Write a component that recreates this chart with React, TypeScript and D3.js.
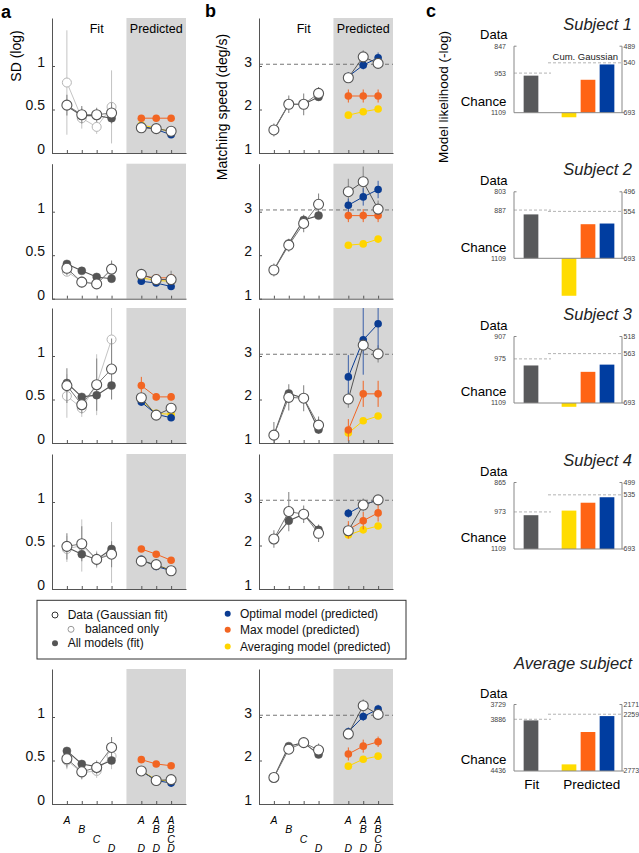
import React, { useEffect, useRef } from 'react';
import * as d3 from 'd3';

const FONT = "'Liberation Sans', Arial, Helvetica, sans-serif";

// ---------- Panel a: SD (log) ----------
const sdFitData = [
  [0.55, 0.44, 0.44, 0.46],
  [0.35, 0.19, 0.17, 0.34],
  [0.66, 0.44, 0.67, 0.85],
  [0.49, 0.52, 0.34, 0.40],
  [0.52, 0.37, 0.42, 0.65],
];
const sdFitErr = [
  [0.12, 0.1, 0.08, 0.12],
  [0.08, 0.06, 0.05, 0.1],
  [0.2, 0.1, 0.3, 0.35],
  [0.15, 0.2, 0.08, 0.15],
  [0.1, 0.08, 0.08, 0.12],
];
const sdBalanced = [
  [0.81, 0.40, 0.30, 0.53],
  [0.31, 0.20, 0.17, 0.33],
  [0.54, 0.40, 0.67, 1.19],
  [0.46, 0.50, 0.34, 0.42],
  [0.50, 0.36, 0.38, 0.55],
];
const sdBalancedErr = [
  [0.6, 0.12, 0.08, 0.42],
  [0.05, 0.05, 0.05, 0.1],
  [0.25, 0.1, 0.35, 0.5],
  [0.15, 0.3, 0.1, 0.35],
  [0.1, 0.08, 0.08, 0.15],
];
const sdAllModels = [
  [0.54, 0.43, 0.43, 0.40],
  [0.40, 0.32, 0.25, 0.23],
  [0.69, 0.53, 0.55, 0.66],
  [0.48, 0.40, 0.34, 0.46],
  [0.61, 0.46, 0.43, 0.50],
];
const sdPredData = [
  [0.29, 0.28, 0.25],
  [0.28, 0.22, 0.22],
  [0.52, 0.32, 0.40],
  [0.32, 0.28, 0.21],
  [0.38, 0.27, 0.28],
];
const sdPredErr = [
  [0.04, 0.04, 0.04],
  [0.05, 0.04, 0.1],
  [0.06, 0.05, 0.06],
  [0.04, 0.04, 0.04],
  [0.04, 0.04, 0.04],
];
const sdOptimal = [
  [0.31, 0.27, 0.21],
  [0.20, 0.18, 0.14],
  [0.47, 0.33, 0.29],
  [0.34, 0.26, 0.21],
  [0.38, 0.27, 0.24],
];
const sdMax = [
  [0.40, 0.40, 0.40],
  [0.26, 0.24, 0.24],
  [0.66, 0.53, 0.53],
  [0.46, 0.40, 0.33],
  [0.51, 0.46, 0.44],
];
const sdMaxErr = [
  [0.03, 0.03, 0.03],
  [0.03, 0.03, 0.03],
  [0.1, 0.04, 0.04],
  [0.03, 0.03, 0.03],
  [0.03, 0.03, 0.03],
];
const sdAveraging = [
  [0.32, 0.29, 0.24],
  [0.24, 0.21, 0.20],
  [0.49, 0.34, 0.33],
  [0.33, 0.27, 0.22],
  [0.38, 0.28, 0.26],
];

// ---------- Panel b: Matching speed ----------
const spFitData = [
  [1.53, 2.12, 2.12, 2.37],
  [1.66, 2.23, 2.73, 3.17],
  [1.18, 2.05, 2.03, 1.41],
  [2.15, 2.78, 2.72, 2.28],
  [1.61, 2.26, 2.41, 2.24],
];
const spFitErr = [
  [0.15, 0.2, 0.25, 0.15],
  [0.15, 0.15, 0.2, 0.25],
  [0.3, 0.3, 0.3, 0.2],
  [0.2, 0.45, 0.2, 0.2],
  [0.1, 0.1, 0.12, 0.15],
];
const spAllModels = [
  [1.53, 2.12, 2.12, 2.29],
  [1.66, 2.27, 2.81, 2.91],
  [1.18, 2.14, 2.03, 1.31],
  [2.15, 2.57, 2.72, 2.36],
  [1.61, 2.33, 2.41, 2.14],
];
const spPredData = [
  [2.73, 3.21, 3.06],
  [3.46, 3.69, 3.06],
  [2.01, 3.25, 3.05],
  [2.34, 2.93, 3.05],
  [2.61, 3.26, 3.06],
];
const spPredErr = [
  [0.1, 0.15, 0.1],
  [0.3, 0.35, 0.2],
  [0.2, 0.2, 0.2],
  [0.15, 0.15, 0.1],
  [0.1, 0.15, 0.1],
];
const spOptimal = [
  [2.76, 3.02, 3.19],
  [3.15, 3.34, 3.51],
  [2.52, 3.37, 3.74],
  [2.74, 2.93, 3.05],
  [2.66, 3.01, 3.18],
];
const spOptimalErr = [
  [0.1, 0.1, 0.12],
  [0.15, 0.2, 0.2],
  [0.5, 0.8, 0.7],
  [0.1, 0.1, 0.1],
  [0.1, 0.1, 0.1],
];
const spMax = [
  [2.31, 2.31, 2.31],
  [2.91, 2.91, 2.91],
  [1.30, 2.13, 2.13],
  [2.36, 2.57, 2.75],
  [2.15, 2.33, 2.43],
];
const spMaxErr = [
  [0.15, 0.15, 0.15],
  [0.15, 0.15, 0.15],
  [0.25, 0.3, 0.3],
  [0.2, 0.2, 0.2],
  [0.15, 0.15, 0.12],
];
const spAveraging = [
  [1.87, 1.95, 2.01],
  [2.23, 2.26, 2.37],
  [1.23, 1.51, 1.62],
  [2.24, 2.36, 2.45],
  [1.87, 2.03, 2.10],
];
const SPEED_REF = 3.04;

// ---------- Panel c: Model likelihood ----------
const subjects = ['Subject 1', 'Subject 2', 'Subject 3', 'Subject 4', 'Average subject'];
const likLeftTicks = [
  [847, 953, 1109],
  [803, 887, 1109],
  [907, 975, 1109],
  [865, 973, 1109],
  [3729, 3886, 4436],
];
const likRightTicks = [
  [489, 540, 693],
  [496, 554, 693],
  [518, 563, 693],
  [499, 535, 693],
  [2171, 2259, 2773],
];
const likFit = [963, 907, 995, 985, 3898];
const likAveraging = [707, 804, 703, 581, 2713];
const likMax = [592, 592, 611, 558, 2420];
const likOptimal = [545, 590, 592, 542, 2276];

// ---------- labels ----------
const fitLabels = ['A', 'B', 'C', 'D'];
const predLabels = [
  ['A', '', '', 'D'],
  ['A', 'B', '', 'D'],
  ['A', 'B', 'C', 'D'],
];
const FIT_X = [1, 2, 3, 4];
const PRED_X = [6, 7, 8];

const COL = {
  blue: '#0a3c92',
  orange: '#f26522',
  yellow: '#ffd500',
  dark: '#555555',
  shade: '#d6d6d6',
  axis: '#555',
  err: '#8a8a8a',
};

const ROW_BOTTOMS = [153, 298.7, 443, 589, 804];
const ROW_H = 135;
const C_BOTTOMS = [112.7, 258.3, 403, 549, 771];
const C_H = 66.5;

type Sel = d3.Selection<any, any, any, any>;

interface PanelRow {
  x0: number;
  B: number;
  yDomain: [number, number];
  yTicks: number[];
  fmt: (v: number) => string;
  fit: number[];
  fitErr: number[];
  balanced?: number[];
  balancedErr?: number[];
  all: number[];
  pred: number[];
  predErr: number[];
  opt: number[];
  optErr?: number[];
  max: number[];
  maxErr?: number[];
  avg: number[];
  ref?: number;
  header: boolean;
}

function drawRow(svg: Sel, o: PanelRow) {
  const g = svg.append('g');
  const x = d3.scaleLinear().domain([0, 9]).range([o.x0, o.x0 + 134]);
  const y = d3.scaleLinear().domain(o.yDomain).range([o.B, o.B - ROW_H]);
  const top = o.yDomain[1];
  const bot = o.yDomain[0];
  const clip = (v: number) => Math.max(bot, Math.min(top, v));

  g.append('rect')
    .attr('x', x(5)).attr('y', o.B - ROW_H)
    .attr('width', x(9) - x(5)).attr('height', ROW_H)
    .attr('fill', COL.shade);

  if (o.ref != null) {
    g.append('line')
      .attr('x1', x(0)).attr('x2', x(9))
      .attr('y1', y(o.ref)).attr('y2', y(o.ref))
      .attr('stroke', '#666').attr('stroke-width', 0.9)
      .attr('stroke-dasharray', '4,3');
  }

  const ya = g.append('g').attr('transform', `translate(${o.x0},0)`)
    .call(d3.axisLeft(y).tickValues(o.yTicks).tickSize(-3).tickSizeOuter(0).tickPadding(7).tickFormat(o.fmt as any));
  ya.select('.domain').attr('stroke', COL.axis);
  ya.selectAll('.tick line').attr('stroke', COL.axis);
  ya.selectAll('text').attr('y', -4).attr('font-size', 14).attr('font-family', FONT).attr('fill', '#111');

  const xa = g.append('g').attr('transform', `translate(0,${o.B})`)
    .call(d3.axisBottom(x).tickValues([...FIT_X, ...PRED_X]).tickSize(-3).tickSizeOuter(0).tickFormat(() => ''));
  xa.select('.domain').attr('stroke', COL.axis);
  xa.selectAll('.tick line').attr('stroke', COL.axis);

  if (o.header) {
    g.append('text').attr('x', x(3)).attr('y', o.B - ROW_H + 14.5)
      .attr('text-anchor', 'middle').attr('font-size', 12.5).text('Fit');
    g.append('text').attr('x', x(7)).attr('y', o.B - ROW_H + 14.5)
      .attr('text-anchor', 'middle').attr('font-size', 12.5).text('Predicted');
  }

  const errBars = (xs: number[], vals: number[], errs: number[], color: string, w = 1) => {
    g.append('g').selectAll('line').data(vals).join('line')
      .attr('x1', (_, i) => x(xs[i])).attr('x2', (_, i) => x(xs[i]))
      .attr('y1', (v, i) => y(clip(v - errs[i]))).attr('y2', (v, i) => y(clip(v + errs[i])))
      .attr('stroke', color).attr('stroke-width', w);
  };
  const line = (xs: number[], vals: number[], color: string, w = 1) => {
    const gen = d3.line<number>().x((_, i) => x(xs[i])).y((v) => y(v));
    g.append('path').attr('d', gen(vals)).attr('fill', 'none').attr('stroke', color).attr('stroke-width', w);
  };
  const dots = (xs: number[], vals: number[], r: number, fill: string, stroke: string, sw: number) => {
    g.append('g').selectAll('circle').data(vals).join('circle')
      .attr('cx', (_, i) => x(xs[i])).attr('cy', (v) => y(v)).attr('r', r)
      .attr('fill', fill).attr('stroke', stroke).attr('stroke-width', sw);
  };

  // fit side
  if (o.balanced && o.balancedErr) {
    errBars(FIT_X, o.balanced, o.balancedErr, '#c4c4c4', 1);
    line(FIT_X, o.balanced, '#c4c4c4', 1);
    dots(FIT_X, o.balanced, 4.5, '#fff', '#b5b5b5', 1);
  }
  errBars(FIT_X, o.fit, o.fitErr, COL.err, 1.1);
  line(FIT_X, o.all, COL.dark, 1.1);
  dots(FIT_X, o.all, 4, COL.dark, COL.dark, 0.5);
  line(FIT_X, o.fit, '#777', 1);
  dots(FIT_X, o.fit, 5, '#fff', '#555', 1.1);

  // predicted side
  errBars(PRED_X, o.pred, o.predErr, COL.err, 1.1);
  line(PRED_X, o.avg, COL.yellow, 1);
  dots(PRED_X, o.avg, 3.8, COL.yellow, 'none', 0);
  if (o.maxErr) errBars(PRED_X, o.max, o.maxErr, COL.orange, 1);
  line(PRED_X, o.max, COL.orange, 1);
  dots(PRED_X, o.max, 3.8, COL.orange, 'none', 0);
  if (o.optErr) errBars(PRED_X, o.opt, o.optErr, '#3a5fa8', 1);
  line(PRED_X, o.opt, COL.blue, 1);
  dots(PRED_X, o.opt, 3.8, COL.blue, 'none', 0);
  line(PRED_X, o.pred, '#555', 1);
  dots(PRED_X, o.pred, 5, '#fff', '#555', 1.1);

  return x;
}

function drawXLabels(svg: Sel, x: d3.ScaleLinear<number, number>) {
  const g = svg.append('g').attr('font-size', 10.5).attr('font-style', 'italic').attr('text-anchor', 'middle');
  const base = 823.5;
  const step = 9.6;
  fitLabels.forEach((t, i) => {
    g.append('text').attr('x', x(FIT_X[i])).attr('y', base + i * step).text(t);
  });
  predLabels.forEach((col, c) => {
    col.forEach((t, r) => {
      if (t) g.append('text').attr('x', x(PRED_X[c])).attr('y', base + r * step).text(t);
    });
  });
}

function drawLikelihood(svg: Sel, i: number) {
  const g = svg.append('g');
  const B = C_BOTTOMS[i];
  const topY = B - C_H;
  const L = likLeftTicks[i];
  const R = likRightTicks[i];
  const yL = d3.scaleLinear().domain([L[2], L[0]]).range([B, topY]);
  const yR = d3.scaleLinear().domain([R[2], R[0]]).range([B, topY]);
  const xb = d3.scalePoint<string>().domain(['fit', 'gap', 'avg', 'max', 'opt']).range([531, 607]);
  const xl = 514;
  const xr = 622;
  const bw = 14.7;

  // title
  g.append('text').attr('x', 632).attr('y', i === 4 ? B - 101.7 : B - 83)
    .attr('text-anchor', 'end').attr('font-size', 16.5).attr('font-style', 'italic').attr('fill', '#222')
    .text(subjects[i]);
  g.append('text').attr('x', 507.5).attr('y', B - 73.4).attr('text-anchor', 'end').attr('font-size', 13).text('Data');
  g.append('text').attr('x', 506.5).attr('y', B - 6.7).attr('text-anchor', 'end').attr('font-size', 13.3).text('Chance');

  // dashed lines
  g.append('line').attr('x1', xl).attr('x2', 551).attr('y1', yL(L[1])).attr('y2', yL(L[1]))
    .attr('stroke', '#aaa').attr('stroke-width', 0.9).attr('stroke-dasharray', '3,2');
  g.append('line').attr('x1', 548).attr('x2', xr).attr('y1', yR(R[1])).attr('y2', yR(R[1]))
    .attr('stroke', '#aaa').attr('stroke-width', 0.9).attr('stroke-dasharray', '3,2');
  if (i === 0) {
    g.append('text').attr('x', 618).attr('y', yR(R[1]) - 3).attr('text-anchor', 'end')
      .attr('font-size', 9.5).attr('fill', '#222').text('Cum. Gaussian');
  }

  // bars
  const bar = (key: string, yScale: d3.ScaleLinear<number, number>, v: number, color: string) => {
    const yy = yScale(v);
    g.append('rect').attr('x', (xb(key) as number) - bw / 2).attr('y', Math.min(yy, B))
      .attr('width', bw).attr('height', Math.abs(B - yy)).attr('fill', color);
  };
  bar('fit', yL, likFit[i], '#58595b');
  bar('avg', yR, likAveraging[i], '#ffdc00');
  bar('max', yR, likMax[i], '#ff6414');
  bar('opt', yR, likOptimal[i], '#003da0');

  // axes
  const axisG = g.append('g').attr('stroke', '#888').attr('stroke-width', 1);
  axisG.append('line').attr('x1', xl).attr('x2', xl).attr('y1', topY).attr('y2', B);
  axisG.append('line').attr('x1', xr).attr('x2', xr).attr('y1', topY).attr('y2', B);
  axisG.append('line').attr('x1', xl).attr('x2', xr + 2).attr('y1', B).attr('y2', B);
  axisG.append('line').attr('x1', xl).attr('x2', xl + 2.5).attr('y1', topY).attr('y2', topY);
  axisG.append('line').attr('x1', xr - 2.5).attr('x2', xr).attr('y1', topY).attr('y2', topY);

  const tl = g.append('g').attr('font-size', 7).attr('fill', '#444');
  L.forEach((v) => {
    tl.append('text').attr('x', 506).attr('y', yL(v)).attr('dy', '0.35em').attr('text-anchor', 'end').text(String(v));
  });
  R.forEach((v) => {
    tl.append('text').attr('x', 623.5).attr('y', yR(v)).attr('dy', '0.35em').attr('text-anchor', 'start').text(String(v));
  });

  if (i === 4) {
    g.append('text').attr('x', 531.7).attr('y', B + 18).attr('text-anchor', 'middle').attr('font-size', 13.5).text('Fit');
    g.append('text').attr('x', 591.7).attr('y', B + 18).attr('text-anchor', 'middle').attr('font-size', 13.5).text('Predicted');
  }
}

function drawLegend(svg: Sel) {
  const g = svg.append('g').attr('font-size', 12).attr('fill', '#111');
  g.append('rect').attr('x', 37).attr('y', 600.3).attr('width', 369).attr('height', 58.7)
    .attr('fill', '#fff').attr('stroke', '#333').attr('stroke-width', 1);
  g.append('circle').attr('cx', 55).attr('cy', 615).attr('r', 3).attr('fill', '#fff').attr('stroke', '#333').attr('stroke-width', 1);
  g.append('text').attr('x', 67.7).attr('y', 619).text('Data (Gaussian fit)');
  g.append('circle').attr('cx', 71).attr('cy', 629.3).attr('r', 3).attr('fill', '#fff').attr('stroke', '#999').attr('stroke-width', 1);
  g.append('text').attr('x', 85).attr('y', 633.3).text('balanced only');
  g.append('circle').attr('cx', 55).attr('cy', 643.3).attr('r', 3).attr('fill', COL.dark);
  g.append('text').attr('x', 67.7).attr('y', 647.3).text('All models (fit)');

  const items: [string, string, number][] = [
    ['Optimal model (predicted)', COL.blue, 618.3],
    ['Max model (predicted)', COL.orange, 634.3],
    ['Averaging model (predicted)', COL.yellow, 651],
  ];
  items.forEach(([t, c, yy]) => {
    g.append('circle').attr('cx', 227.7).attr('cy', yy - 4.5).attr('r', 3).attr('fill', c);
    g.append('text').attr('x', 240).attr('y', yy).text(t);
  });
}

function draw(svg: Sel) {
  svg.append('rect').attr('width', 639).attr('height', 853).attr('fill', '#fff');

  let xa: any = null;
  let xb: any = null;
  for (let r = 0; r < 5; r++) {
    xa = drawRow(svg, {
      x0: 52, B: ROW_BOTTOMS[r], yDomain: [0, ROW_H / 87], yTicks: [0, 0.5, 1],
      fmt: (v) => String(v),
      fit: sdFitData[r], fitErr: sdFitErr[r], balanced: sdBalanced[r], balancedErr: sdBalancedErr[r],
      all: sdAllModels[r], pred: sdPredData[r], predErr: sdPredErr[r],
      opt: sdOptimal[r], max: sdMax[r], maxErr: sdMaxErr[r], avg: sdAveraging[r],
      header: r === 0,
    });
    xb = drawRow(svg, {
      x0: 259, B: ROW_BOTTOMS[r], yDomain: [1, 1 + ROW_H / 43.5], yTicks: [1, 2, 3],
      fmt: (v) => String(v),
      fit: spFitData[r], fitErr: spFitErr[r],
      all: spAllModels[r], pred: spPredData[r], predErr: spPredErr[r],
      opt: spOptimal[r], optErr: spOptimalErr[r], max: spMax[r], maxErr: spMaxErr[r], avg: spAveraging[r],
      ref: SPEED_REF, header: r === 0,
    });
  }
  drawXLabels(svg, xa);
  drawXLabels(svg, xb);

  for (let i = 0; i < 5; i++) drawLikelihood(svg, i);
  drawLegend(svg);

  // axis titles and panel letters
  svg.append('text').attr('transform', 'translate(21,56) rotate(-90)').attr('text-anchor', 'middle')
    .attr('font-size', 14).text('SD (log)');
  svg.append('text').attr('transform', 'translate(227,107) rotate(-90)').attr('text-anchor', 'middle')
    .attr('font-size', 14).text('Matching speed (deg/s)');
  svg.append('text').attr('transform', 'translate(448,97) rotate(-90)').attr('text-anchor', 'middle')
    .attr('font-size', 13.5).text('Model likelihood (-log)');
  svg.append('text').attr('x', 1).attr('y', 17.5).attr('font-size', 18).attr('font-weight', 'bold').text('a');
  svg.append('text').attr('x', 205).attr('y', 17).attr('font-size', 18).attr('font-weight', 'bold').text('b');
  svg.append('text').attr('x', 426).attr('y', 17.3).attr('font-size', 18).attr('font-weight', 'bold').text('c');
}

export default function App() {
  const ref = useRef<SVGSVGElement>(null);
  useEffect(() => {
    if (!ref.current) return;
    const svg = d3.select(ref.current);
    svg.selectAll('*').remove();
    draw(svg as any);
  }, []);
  return (
    <svg
      ref={ref}
      width={639}
      height={853}
      fontFamily={FONT}
      style={{ position: 'absolute', left: 0, top: 0, display: 'block' }}
    />
  );
}
